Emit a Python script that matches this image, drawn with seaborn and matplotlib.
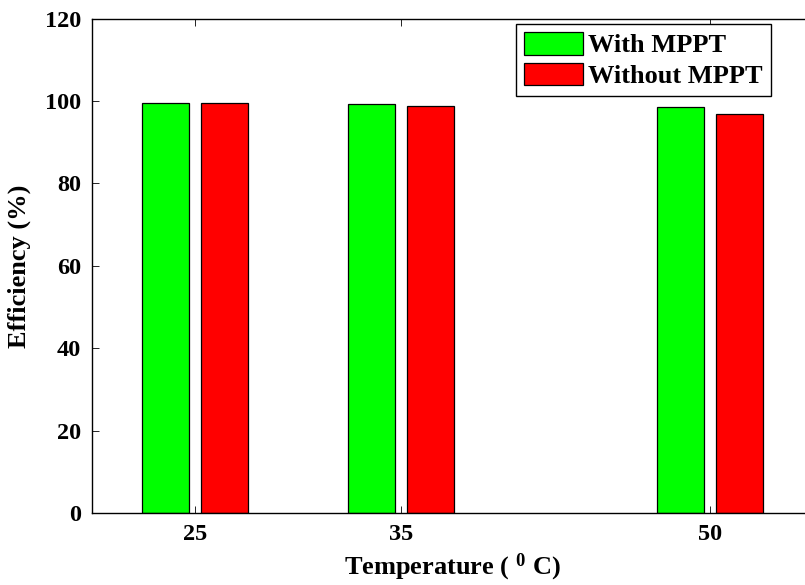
import pandas as pd
import seaborn as sns
import matplotlib.pyplot as plt

# Efficiency at each temperature, with and without MPPT control
temperature = [25, 35, 50]
with_mppt = [99.6, 99.2, 98.6]
without_mppt = [99.6, 98.9, 96.8]
series_names = ["With MPPT", "Without MPPT"]
bar_colors = ["#00ff00", "#ff0000"]
y_ticks = [0, 20, 40, 60, 80, 100, 120]

df = pd.DataFrame({
    "Temperature": temperature * 2,
    "Efficiency": with_mppt + without_mppt,
    "Series": [series_names[0]] * len(temperature) + [series_names[1]] * len(temperature),
})

sns.set_style("ticks")
plt.rcParams["font.family"] = ["Liberation Serif", "DejaVu Serif"]
plt.rcParams["font.weight"] = "bold"
plt.rcParams["text.color"] = "black"
plt.rcParams["axes.labelcolor"] = "black"
plt.rcParams["xtick.color"] = "black"
plt.rcParams["ytick.color"] = "black"
plt.rcParams["mathtext.fontset"] = "custom"
plt.rcParams["mathtext.rm"] = "Liberation Serif:bold"
plt.rcParams["mathtext.bf"] = "Liberation Serif:bold"
plt.rcParams["mathtext.default"] = "rm"

W, H = 805, 585
fig = plt.figure(figsize=(W / 100, H / 100), dpi=100)
ax = fig.add_axes([92 / W, 1 - 513 / H, (813 - 92) / W, (513 - 18.7) / H])

sns.barplot(
    data=df, x="Temperature", y="Efficiency", hue="Series",
    palette=bar_colors, saturation=1, native_scale=True, width=0.57, gap=0.2,
    edgecolor="black", linewidth=0.9, errorbar=None, ax=ax,
)

ax.set_xlim(20, 55)
ax.set_ylim(0, 120)
ax.set_xticks(temperature)
ax.set_xticklabels([str(t) for t in temperature])
ax.set_yticks(y_ticks)
ax.tick_params(direction="in", top=True, right=True, length=5, width=0.6,
               labelsize=17.5, pad=8, colors="black")
for s in ax.spines.values():
    s.set_visible(True)
    s.set_color("black")
    s.set_linewidth(1.0)

ax.set_xlabel(r"Temperature ( $^{0}$ C)", fontsize=19, fontweight="bold",
              labelpad=5, color="black")
ax.set_ylabel("Efficiency (%)", fontsize=19, fontweight="bold",
              labelpad=10, color="black")

handles, labels = ax.get_legend_handles_labels()
leg = ax.legend(
    handles, labels, loc="upper right",
    bbox_to_anchor=(771 / W, 1 - 24 / H), bbox_transform=fig.transFigure,
    frameon=True, fancybox=False, framealpha=1, borderaxespad=0,
    edgecolor="black", handlelength=2.25, handleheight=0.95,
    handletextpad=0.2, labelspacing=0.2, borderpad=0.3,
    prop={"weight": "bold", "size": 19},
)
leg.get_frame().set_linewidth(1.0)
for t in leg.get_texts():
    t.set_color("black")

fig.savefig("out.png", dpi=100)
